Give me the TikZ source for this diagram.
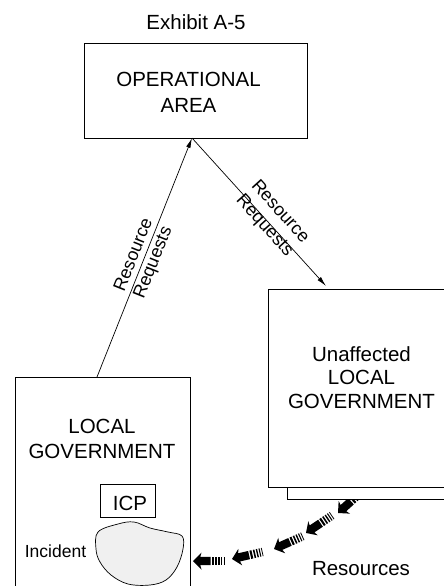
\documentclass[tikz,border=0pt]{standalone}
\usepackage{fontspec}
\setmainfont{Liberation Sans}
\usetikzlibrary{arrows.meta}
\begin{document}
\begin{tikzpicture}[x=1pt,y=-1pt,
  box/.style={draw,line width=0.9pt,fill=white,inner sep=0pt,outer sep=0pt,anchor=north west},
  bigtext/.style={font=\fontsize{20.5}{25}\selectfont,inner sep=0pt,align=center},
  conn/.style={line width=0.7pt,-{Latex[length=10pt,width=4.5pt]}},
  lbl/.style={font=\fontsize{18}{21}\selectfont,inner sep=0pt,align=center},
  resarrow/.pic={
    \fill (0,0) -- (-8.5,8.5) -- (-7.3,4.2) -- (-17.5,4.2) -- (-17.5,-4.2) -- (-7.3,-4.2) -- (-8.5,-8.5) -- cycle;
    \fill (-18.8,-4.2) rectangle (-20.9,4.2);
    \fill (-22.3,-4.2) rectangle (-23.9,4.2);
    \fill (-25.3,-4.2) rectangle (-26.7,4.2);
    \fill (-28.1,-4.2) rectangle (-29.2,4.2);
    \fill (-30.6,-4.2) rectangle (-31.4,4.2);
  }
]
\useasboundingbox (0,0) rectangle (444,586);
\clip (0,0) rectangle (444,586);

% resource flow arrows
\pic[rotate=180] at (193,561) {resarrow};
\pic[rotate=193] at (232,559) {resarrow};
\pic[rotate=204] at (274,549) {resarrow};
\pic[rotate=214] at (306,533) {resarrow};
\pic[rotate=222] at (338,513) {resarrow};

% boxes
\node[box,minimum width=223,minimum height=95] (opa) at (84,43) {};
\node[box,minimum width=175,minimum height=250] (lg) at (15,377) {};
\node[box,minimum width=200,minimum height=199] (uaback) at (287,300) {};
\node[box,minimum width=200,minimum height=198] (ua) at (268,289) {};
\node[box,minimum width=55,minimum height=33] (icp) at (100,484) {};

% incident blob
\draw[line width=0.7pt,fill=black!6] plot[smooth cycle,tension=0.6] coordinates {
  (98,532) (118,524) (134,522) (150,528) (168,532) (182,536) (183,549)
  (177,567) (166,580) (150,585) (128,584) (111,575) (100,562) (96,549)};

% connectors
\coordinate (lgtop) at (97,377);
\coordinate (opabot) at (192,138);
\coordinate (uatip) at (326,286);
\draw[conn] (lgtop) -- (opabot);
\draw[conn] (opabot) -- (uatip);

% texts
\node[bigtext,anchor=base] (exh) at (196,30) {Exhibit A-5};
\node[bigtext,font=\fontsize{20.5}{26}\selectfont] (opatext) at (188.5,92.5) {OPERATIONAL\\AREA};
\node[bigtext] (lgtext) at (102,439) {LOCAL\\GOVERNMENT};
\node[bigtext,font=\fontsize{20.5}{23.3}\selectfont] (uatext) at (361.5,377.5) {Unaffected\\LOCAL\\GOVERNMENT};
\node[bigtext,anchor=base] (icptext) at (130,510) {ICP};
\node[font=\fontsize{17.5}{20}\selectfont,inner sep=0pt,anchor=base] (inc) at (55.5,557) {Incident};
\node[bigtext,anchor=base] (res) at (361,575) {Resources};
\node[lbl,rotate=68.3] (lblL) at (144,259) {Resource\\Requests};
\node[lbl,rotate=-47.9] (lblR) at (272,219) {Resource\\Requests};
\end{tikzpicture}
\end{document}
